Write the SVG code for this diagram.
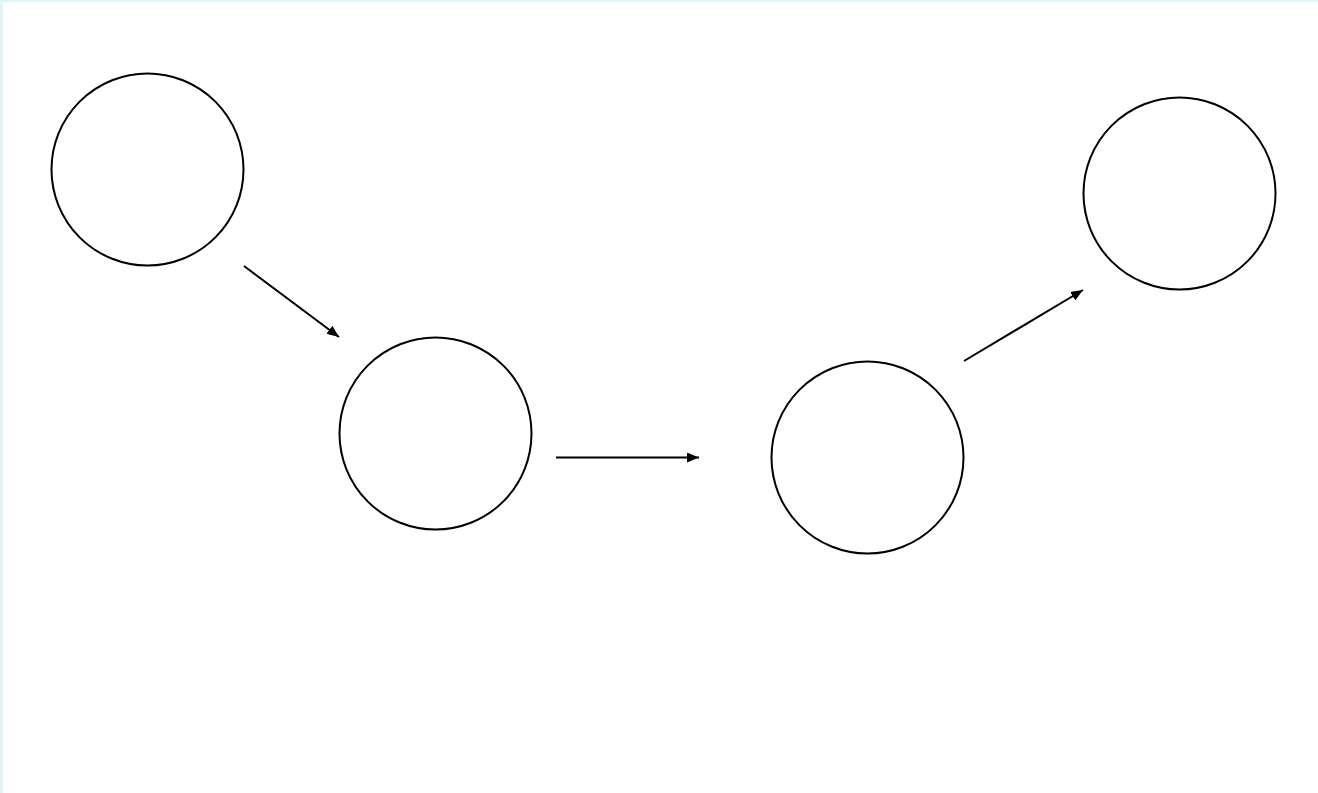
<svg xmlns="http://www.w3.org/2000/svg" width="1318" height="793" viewBox="0 0 1318 793">
<style>
.node{fill:#fff;stroke:#000;stroke-width:2}
.edge{stroke:#000;stroke-width:2;fill:none;marker-end:url(#ah)}
</style>
<defs>
<marker id="ah" markerUnits="userSpaceOnUse" markerWidth="12" markerHeight="10" refX="12" refY="5" orient="auto">
<path d="M0,0 L12,5 L0,10 z" fill="#000"/>
</marker>
</defs>
<rect x="0" y="0" width="1318" height="793" fill="#fff"/>
<rect x="0" y="0" width="3" height="793" fill="#dff5fa"/>
<rect x="0" y="0" width="1318" height="2" fill="#dff5fa"/>
<g id="n1"><circle class="node" cx="147.5" cy="169.5" r="96"/></g>
<g id="n2"><circle class="node" cx="435.5" cy="433.5" r="96"/></g>
<g id="n3"><circle class="node" cx="867.5" cy="457.5" r="96"/></g>
<g id="n4"><circle class="node" cx="1179.5" cy="193.5" r="96"/></g>
<g id="edges">
<line class="edge" x1="244" y1="266" x2="339" y2="337"/>
<line class="edge" x1="556" y1="457.5" x2="699" y2="457.5"/>
<line class="edge" x1="964" y1="361" x2="1083" y2="290"/>
</g>
</svg>
